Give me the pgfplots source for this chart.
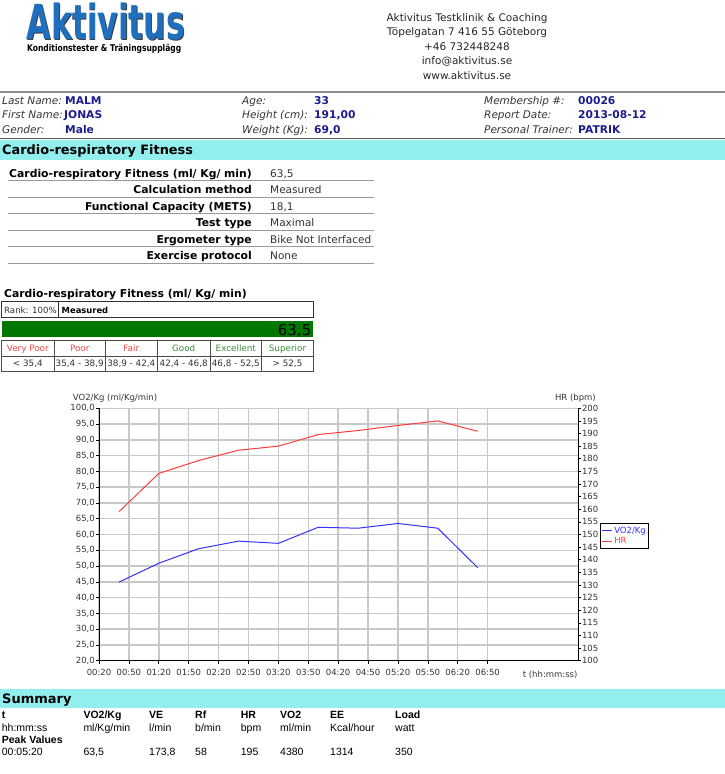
\documentclass[border=0pt]{standalone}
\usepackage{pgfplots}
\pgfplotsset{compat=1.18}
\usepackage{pgfplotstable}
\usepackage{graphicx}
\usepackage{fontspec}
\setmainfont{DejaVu Sans}
\newfontfamily\lib{Liberation Sans}
\definecolor{cyanbar}{HTML}{93EEEE}
\definecolor{navy}{HTML}{1C1C8C}
\definecolor{logoblue}{HTML}{1F6FBF}
\definecolor{bargreen}{HTML}{007800}
\definecolor{catred}{HTML}{F04848}
\definecolor{catgreen}{HTML}{3C8C3C}
\definecolor{gridgray}{HTML}{C8C8C8}
\definecolor{vo2blue}{HTML}{3333FF}
\definecolor{hrred}{HTML}{FF3C3C}
\definecolor{txtgray}{HTML}{333333}
\newcommand\fs[1]{\fontsize{#1}{#1}\selectfont}

\pgfplotstableread{
t vo2
40 44.9
80 50.9
120 55.5
160 57.9
200 57.2
240 62.3
280 62.0
320 63.5
360 62.0
400 49.5
}\vodata
\pgfplotstableread{
t hr
40 159.0
80 174.2
120 179.3
160 183.4
200 185.0
240 189.6
280 191.2
320 193.2
360 195.0
400 190.9
}\hrdata

\begin{document}
\begin{tikzpicture}[x=1pt,y=1pt, t/.style={inner sep=0pt, anchor=base west}, te/.style={inner sep=0pt, anchor=base east}, tc/.style={inner sep=0pt, anchor=base}]
\useasboundingbox (0,0) rectangle (725,-774);
% logo
\node[t, text=black!75] at (27.6,-40.1) {\resizebox{158pt}{36.6pt}{\bfseries Aktivitus}};
\node[t, text=logoblue] at (26.7,-39.3) {\resizebox{158pt}{36.6pt}{\bfseries Aktivitus}};
\node[t] at (27,-51) {\resizebox{154pt}{7.2pt}{\bfseries Konditionstester \& Träningsupplägg}};
% address
\begin{scope}[every node/.style={tc, text=black!85, font=\fs{10.5}}]
\node at (467,-21) {Aktivitus Testklinik \& Coaching};
\node at (467,-35.5) {Töpelgatan 7 416 55 Göteborg};
\node at (467,-50) {+46 732448248};
\node at (467,-64.5) {info@aktivitus.se};
\node at (467,-79) {www.aktivitus.se};
\end{scope}
\draw[line width=2pt, black!45] (0,-92) -- (725,-92);
% fields
\begin{scope}[every node/.style={t, text=txtgray, font=\fs{10.5}\itshape}]
\node at (2,-104) {Last Name:};
\node at (2,-118.5) {First Name:};
\node at (2,-133) {Gender:};
\node at (242,-104) {Age:};
\node at (242,-118.5) {Height (cm):};
\node at (242,-133) {Weight (Kg):};
\node at (484,-104) {Membership \#:};
\node at (484,-118.5) {Report Date:};
\node at (484,-133) {Personal Trainer:};
\end{scope}
\begin{scope}[every node/.style={t, text=navy, font=\fs{10.7}\bfseries}]
\node at (65,-104) {MALM};
\node at (64,-118.5) {JONAS};
\node at (65,-133) {Male};
\node at (314,-104) {33};
\node at (314,-118.5) {191,00};
\node at (314,-133) {69,0};
\node at (578,-104) {00026};
\node at (578,-118.5) {2013-08-12};
\node at (578,-133) {PATRIK};
\end{scope}
\draw[line width=1.2pt, black!65] (0,-138.6) -- (725,-138.6);
\fill[cyanbar] (0,-139.6) rectangle (725,-160);
\node[t, font=\fs{12.9}\bfseries] at (2,-154) {Cardio-respiratory Fitness};
% table 1
\begin{scope}[every node/.style={te, font=\fs{10.8}\bfseries}]
\node at (252,-177) {Cardio-respiratory Fitness (ml/ Kg/ min)};
\node at (252,-193.5) {Calculation method};
\node at (252,-210) {Functional Capacity (METS)};
\node at (252,-226.5) {Test type};
\node at (252,-243) {Ergometer type};
\node at (252,-259.5) {Exercise protocol};
\end{scope}
\begin{scope}[every node/.style={t, text=txtgray, font=\fs{10.5}}]
\node at (270,-177) {63,5};
\node at (270,-193.5) {Measured};
\node at (270,-210) {18,1};
\node at (270,-226.5) {Maximal};
\node at (270,-243) {Bike Not Interfaced};
\node at (270,-259.5) {None};
\end{scope}
\foreach \yy in {180.7,197.2,213.7,230.2,246.7,263.2}
  \draw[black!40, line width=0.8pt] (8,-\yy) -- (374,-\yy);
% block 2
\node[t, font=\fs{10.8}\bfseries] at (4,-297) {Cardio-respiratory Fitness (ml/ Kg/ min)};
\draw[black!80, line width=0.6pt] (1.7,-301.7) rectangle (313.3,-317.7);
\draw[black!80, line width=0.6pt] (58.3,-301.7) -- (58.3,-317.7);
\node[t, text=txtgray, font=\fs{8.6}] at (4,-313) {Rank: 100\%};
\node[t, font=\fs{8.4}\bfseries] at (61.5,-313) {Measured};
\fill[bargreen] (1.7,-320.7) rectangle (313.3,-337.3);
\node[te, font=\fs{15}] at (311.5,-335) {63,5};
\draw[black!70, line width=0.6pt] (1.7,-340) rectangle (313.3,-371);
\draw[black!70, line width=0.6pt] (1.7,-356) -- (313.3,-356);
\foreach \xx in {54,105.3,157.3,210,261.7}
  \draw[black!70, line width=0.6pt] (\xx,-340) -- (\xx,-371);
\begin{scope}[every node/.style={tc, font=\fs{8.8}}]
\node[text=catred] at (27.8,-351.5) {Very Poor};
\node[text=catred] at (79.7,-351.5) {Poor};
\node[text=catred] at (131.3,-351.5) {Fair};
\node[text=catgreen] at (183.7,-351.5) {Good};
\node[text=catgreen] at (235.8,-351.5) {Excellent};
\node[text=catgreen] at (287.5,-351.5) {Superior};
\node[text=txtgray] at (27.8,-366.5) {< 35,4};
\node[text=txtgray] at (79.7,-366.5) {35,4 - 38,9};
\node[text=txtgray] at (131.3,-366.5) {38,9 - 42,4};
\node[text=txtgray] at (183.7,-366.5) {42,4 - 46,8};
\node[text=txtgray] at (235.8,-366.5) {46,8 - 52,5};
\node[text=txtgray] at (287.5,-366.5) {> 52,5};
\end{scope}
% chart
\begin{axis}[
  at={(99pt,-660.7pt)}, anchor=south west,
  scale only axis, width=479.3pt, height=252.4pt,
  xmin=20, xmax=501, ymin=20, ymax=100,
  axis x line*=bottom, axis y line*=left,
  axis line style={black, line width=0.8pt},
  xtick={20,50,...,410},
  xticklabels={00:20,00:50,01:20,01:50,02:20,02:50,03:20,03:50,04:20,04:50,05:20,05:50,06:20,06:50},
  ytick={20,25,...,100},
  yticklabel style={inner sep=1pt, /pgf/number format/fixed, /pgf/number format/fixed zerofill, /pgf/number format/precision=1, /pgf/number format/use comma},
  xticklabel style={yshift=-2pt},
  /pgf/number format/assume math mode=true,
  grid=major, grid style={gridgray, line width=1.5pt},
  tick align=outside, major tick length=3pt, tick style={black, line width=0.6pt},
  ticklabel style={font=\fs{8.5}, text=txtgray},
  clip=false,
]
\addplot[vo2blue, line width=1pt] table[x=t, y=vo2] {\vodata};
\end{axis}
\begin{axis}[
  at={(99pt,-660.7pt)}, anchor=south west,
  scale only axis, width=479.3pt, height=252.4pt,
  xmin=20, xmax=501, ymin=100, ymax=200,
  axis y line*=right, axis x line=none,
  axis line style={black, line width=0.8pt},
  ytick={100,105,...,200},
  /pgf/number format/assume math mode=true,
  tick align=outside, major tick length=3pt, tick style={black, line width=0.6pt},
  ticklabel style={font=\fs{8.5}, text=txtgray},
  yticklabel style={inner sep=0.5pt},
  clip=false,
  legend style={at={(1.045,0.544)}, anchor=north west, draw=black, line width=0.8pt, font=\fs{8.5}, inner sep=1pt, row sep=-1pt, cells={anchor=west}},
  legend image code/.code={\draw[#1] (0pt,0pt) -- (10pt,0pt);},
]
\addlegendimage{vo2blue, line width=1pt}
\addlegendentry{\textcolor{vo2blue}{VO2/Kg}}
\addplot[hrred, line width=1pt] table[x=t, y=hr] {\hrdata};
\addlegendentry{\textcolor{hrred}{HR}}
\end{axis}
\node[t, text=txtgray, font=\fs{8.5}] at (72.7,-400) {VO2/Kg (ml/Kg/min)};
\node[te, text=txtgray, font=\fs{8.5}] at (596,-400) {HR (bpm)};
\node[t, text=txtgray, font=\fs{8.5}] at (522.7,-677.5) {t (hh:mm:ss)};
% summary
\fill[cyanbar] (0,-689) rectangle (725,-708.3);
\node[t, font=\fs{13}\bfseries] at (2,-703) {Summary};
\begin{scope}[every node/.style={t, font=\lib\fs{10.5}}]
\node[font=\lib\fs{10.5}\bfseries] at (1.7,-718.3) {t};
\node[font=\lib\fs{10.5}\bfseries] at (83.3,-718.3) {VO2/Kg};
\node[font=\lib\fs{10.5}\bfseries] at (149,-718.3) {VE};
\node[font=\lib\fs{10.5}\bfseries] at (195,-718.3) {Rf};
\node[font=\lib\fs{10.5}\bfseries] at (240.7,-718.3) {HR};
\node[font=\lib\fs{10.5}\bfseries] at (280,-718.3) {VO2};
\node[font=\lib\fs{10.5}\bfseries] at (330,-718.3) {EE};
\node[font=\lib\fs{10.5}\bfseries] at (395,-718.3) {Load};
\node at (1.7,-731.5) {hh:mm:ss};
\node at (83.3,-731.5) {ml/Kg/min};
\node at (149,-731.5) {l/min};
\node at (195,-731.5) {b/min};
\node at (240.7,-731.5) {bpm};
\node at (280,-731.5) {ml/min};
\node at (330,-731.5) {Kcal/hour};
\node at (395,-731.5) {watt};
\node[font=\lib\fs{10.5}\bfseries] at (1.7,-743.3) {Peak Values};
\node at (1.7,-755) {00:05:20};
\node at (83.3,-755) {63,5};
\node at (149,-755) {173,8};
\node at (195,-755) {58};
\node at (240.7,-755) {195};
\node at (280,-755) {4380};
\node at (330,-755) {1314};
\node at (395,-755) {350};
\end{scope}
\end{tikzpicture}
\end{document}
